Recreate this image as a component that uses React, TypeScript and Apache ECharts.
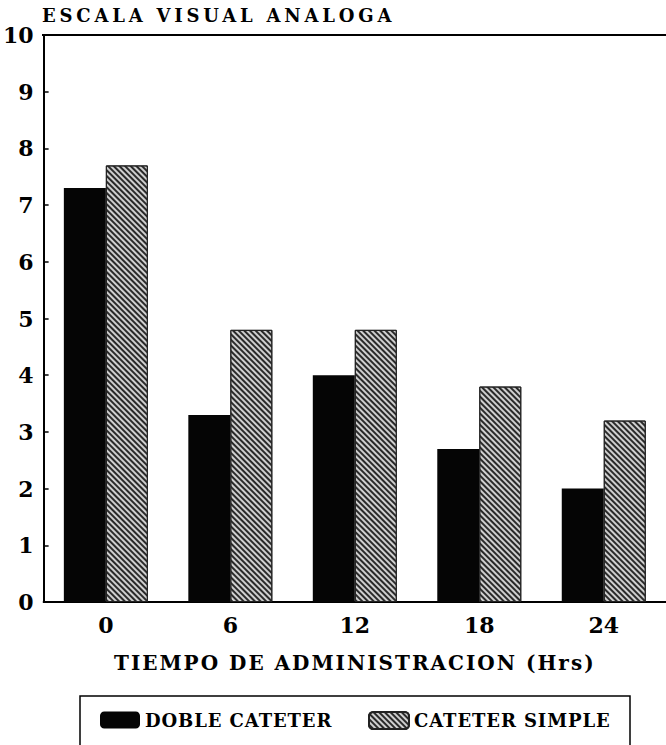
import React, { useEffect, useRef } from "react";
import * as echarts from "echarts";

const categories = ["0", "6", "12", "18", "24"];
const dobleCateter = [7.3, 3.3, 4.0, 2.7, 2.0];
const cateterSimple = [7.7, 4.8, 4.8, 3.8, 3.2];
const seriesNames = ["DOBLE CATETER", "CATETER SIMPLE"];
const titleText = "ESCALA VISUAL ANALOGA";
const xAxisName = "TIEMPO DE ADMINISTRACION (Hrs)";

const SERIF = "'DejaVu Serif', serif";

export default function App() {
  const ref = useRef<HTMLDivElement>(null);
  useEffect(() => {
    document.body.style.margin = "0";
    const chart = echarts.init(ref.current!, null, { renderer: "svg" });
    const numFont = {
      fontFamily: SERIF,
      fontWeight: "bold" as const,
      fontSize: 22,
      color: "#000",
    };
    const legendText = {
      fontFamily: SERIF,
      fontWeight: "bold" as const,
      fontSize: 18,
      color: "#000",
    };
    chart.setOption({
      animation: false,
      backgroundColor: "#fff",
      title: {
        text: titleText,
        left: 42,
        top: 6,
        padding: 0,
        textStyle: {
          fontFamily: SERIF,
          fontWeight: "bold",
          fontSize: 18,
          color: "#000",
        },
      },
      legend: [
        {
          left: 100,
          top: 711,
          itemWidth: 40,
          itemHeight: 17,
          padding: 0,
          selectedMode: false,
          textStyle: legendText,
          data: [seriesNames[0]],
        },
        {
          left: 368,
          top: 711,
          itemWidth: 40,
          itemHeight: 17,
          padding: 0,
          selectedMode: false,
          textStyle: legendText,
          data: [seriesNames[1]],
        },
      ],
      grid: { left: 42, right: 0, top: 35, bottom: 143 },
      xAxis: {
        type: "category",
        data: categories,
        name: xAxisName,
        nameLocation: "middle",
        nameGap: 51,
        nameTextStyle: {
          fontFamily: SERIF,
          fontWeight: "bold",
          fontSize: 20,
          color: "#000",
        },
        axisLine: { lineStyle: { color: "#000", width: 2 } },
        axisTick: { show: false },
        axisLabel: { ...numFont, margin: 12 },
      },
      yAxis: {
        type: "value",
        min: 0,
        max: 10,
        interval: 1,
        axisLine: { show: true, lineStyle: { color: "#000", width: 2 } },
        axisTick: {
          show: true,
          inside: true,
          length: 5,
          lineStyle: { color: "#000", width: 1.5 },
        },
        splitLine: { show: false },
        axisLabel: { ...numFont, margin: 10 },
      },
      series: [
        {
          name: seriesNames[0],
          type: "bar",
          data: dobleCateter,
          barWidth: 42,
          barGap: "0%",
          itemStyle: { color: "#050505" },
        },
        {
          name: seriesNames[1],
          type: "bar",
          data: cateterSimple,
          barWidth: 42,
          barGap: "0%",
          itemStyle: {
            color: "#cfcfcf",
            borderColor: "#222",
            borderWidth: 1,
            decal: {
              symbol: "rect",
              color: "#2a2a2a",
              dashArrayX: [1, 0],
              dashArrayY: [1.2, 1.3],
              rotation: Math.PI / 4,
            },
          },
        },
      ],
      graphic: [
        {
          type: "line",
          shape: { x1: 42, y1: 35, x2: 666, y2: 35 },
          style: { stroke: "#000", lineWidth: 2 },
        },
        {
          type: "rect",
          shape: { x: 80, y: 696, width: 550, height: 70 },
          style: { fill: "none", stroke: "#000", lineWidth: 1.5 },
        },
      ],
    });
    const spacing: Record<string, string> = {
      [titleText]: "3.8px",
      [xAxisName]: "2px",
      [seriesNames[0]]: "0.9px",
      [seriesNames[1]]: "0.9px",
    };
    const applySpacing = () => {
      const root = ref.current;
      if (!root) return;
      root.querySelectorAll("text").forEach((t) => {
        const s = spacing[(t.textContent || "").trim()];
        if (s) t.setAttribute("letter-spacing", s);
      });
    };
    applySpacing();
    chart.on("finished", applySpacing);
    const timer = setTimeout(applySpacing, 50);
    return () => {
      clearTimeout(timer);
      chart.dispose();
    };
  }, []);
  return <div ref={ref} style={{ width: 666, height: 745 }} />;
}
